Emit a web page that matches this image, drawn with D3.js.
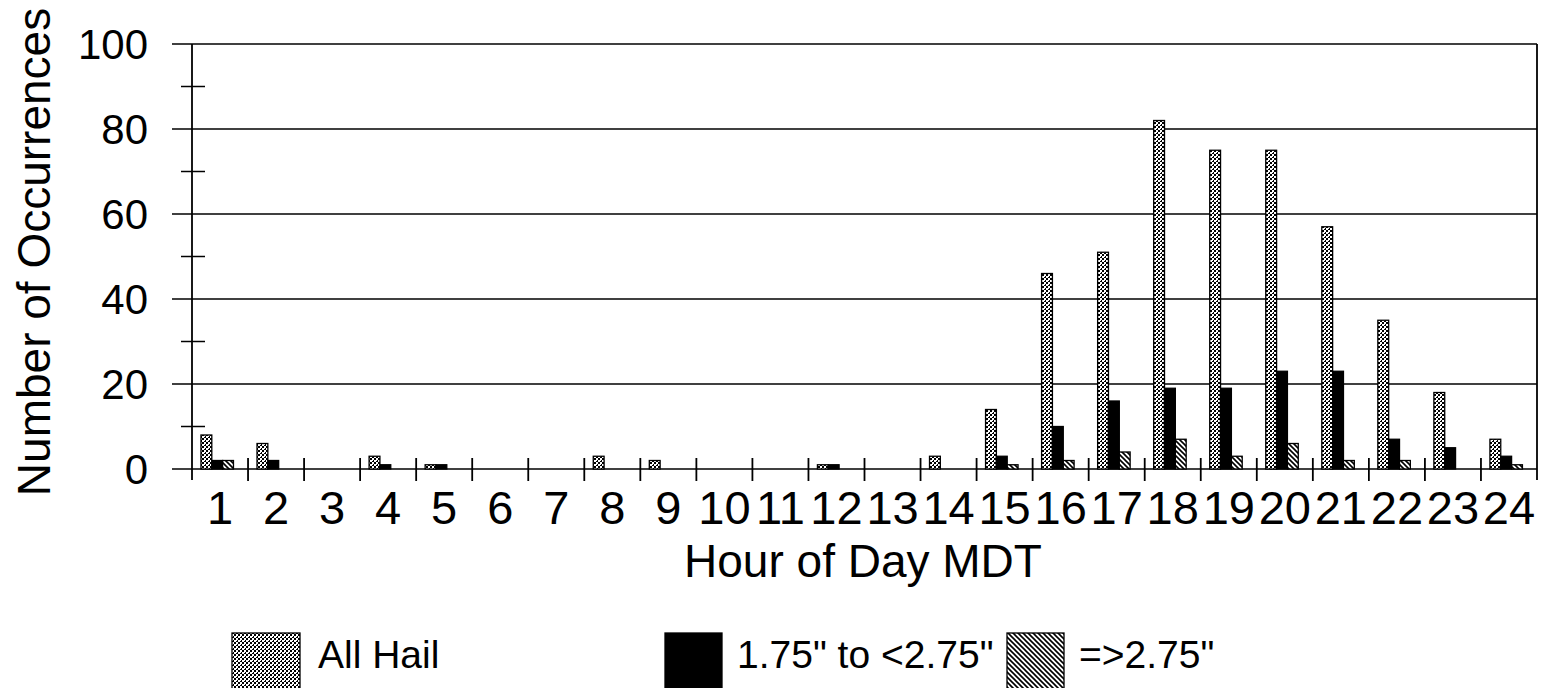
<!DOCTYPE html>
<html>
<head>
<meta charset="utf-8">
<script src="https://cdn.jsdelivr.net/npm/d3@7"></script>
<style>
  html, body { margin: 0; padding: 0; background: #fff; }
  svg { display: block; }
  text { font-family: "Liberation Sans", Arial, Helvetica, sans-serif; fill: #000; }
</style>
</head>
<body>
<svg id="chart" width="1543" height="688"></svg>
<script>
// ---- data ----
const hours = ["1","2","3","4","5","6","7","8","9","10","11","12","13","14","15","16","17","18","19","20","21","22","23","24"];
const allHail = [8,6,0,3,1,0,0,3,2,0,0,1,0,3,14,46,51,82,75,75,57,35,18,7];
const midHail = [2,2,0,1,1,0,0,0,0,0,0,1,0,0,3,10,16,19,19,23,23,7,5,3];
const bigHail = [2,0,0,0,0,0,0,0,0,0,0,0,0,0,1,2,4,7,3,6,2,2,0,1];
const seriesNames = ["All Hail", "1.75\" to <2.75\"", "=>2.75\""];
const yTicks = [0,20,40,60,80,100];
const yMinor = [10,30,50,70,90];

(function () {
const svg = d3.select("#chart");
const pLeft = 192, pRight = 1537, pTop = 44, pBottom = 469;

// patterns
const defs = svg.append("defs");
const dots = defs.append("pattern").attr("id","pDots").attr("patternUnits","userSpaceOnUse")
  .attr("width",4).attr("height",4);
dots.append("rect").attr("width",4).attr("height",4).attr("fill","#000");
dots.append("rect").attr("x",0).attr("y",2).attr("width",2).attr("height",2).attr("fill","#fff");
dots.append("rect").attr("x",2).attr("y",0).attr("width",2).attr("height",2).attr("fill","#fff");
dots.append("rect").attr("x",0).attr("y",0).attr("width",1).attr("height",1).attr("fill","#fff");
const hatch = defs.append("pattern").attr("id","pHatch").attr("patternUnits","userSpaceOnUse")
  .attr("width",5).attr("height",5);
hatch.append("rect").attr("width",5).attr("height",5).attr("fill","#fff");
hatch.append("path").attr("d","M-1,-1 L6,6 M-1,4 L1,6 M4,-1 L6,1").attr("stroke","#000").attr("stroke-width",1.6);

const fills = ["url(#pDots)", "#000", "url(#pHatch)"];
const series = [allHail, midHail, bigHail];

const x = d3.scaleBand().domain(hours).range([pLeft, pRight]).paddingInner(0).paddingOuter(0);
const bw = x.bandwidth();
const xs = d3.scaleBand().domain([0,1,2]).range([bw*0.16, bw*0.74]).padding(0);
const y = d3.scaleLinear().domain([0,100]).range([pBottom, pTop]);

// gridlines / major ticks
svg.append("g").selectAll("line").data(yTicks).join("line")
  .attr("x1", pLeft-20).attr("x2", pRight)
  .attr("y1", d=>y(d)).attr("y2", d=>y(d))
  .attr("stroke","#000").attr("stroke-width",1.5);
// minor ticks
svg.append("g").selectAll("line").data(yMinor).join("line")
  .attr("x1", pLeft-11).attr("x2", pLeft+13)
  .attr("y1", d=>y(d)).attr("y2", d=>y(d))
  .attr("stroke","#000").attr("stroke-width",1.5);
// y axis line and right border
svg.append("line").attr("x1",pLeft).attr("x2",pLeft).attr("y1",pTop).attr("y2",pBottom+11)
  .attr("stroke","#000").attr("stroke-width",1.8);
svg.append("line").attr("x1",pRight).attr("x2",pRight).attr("y1",pTop).attr("y2",pBottom+11)
  .attr("stroke","#000").attr("stroke-width",1.8);
// category ticks
svg.append("g").selectAll("line").data(hours.slice(1)).join("line")
  .attr("x1", d=>x(d)).attr("x2", d=>x(d))
  .attr("y1", pBottom-11).attr("y2", pBottom+12)
  .attr("stroke","#000").attr("stroke-width",1.8);

// bars
series.forEach((vals, si) => {
  svg.append("g").selectAll("rect").data(hours.map((h,i)=>({h, v: vals[i]})).filter(d=>d.v>0)).join("rect")
    .attr("x", d => x(d.h) + xs(si))
    .attr("y", d => y(d.v))
    .attr("width", xs.bandwidth())
    .attr("height", d => y(0) - y(d.v))
    .attr("fill", fills[si])
    .attr("stroke","#000").attr("stroke-width",1.3);
});

// y tick labels
svg.append("g").selectAll("text").data(yTicks).join("text")
  .attr("x", 148).attr("y", d=>y(d)+15)
  .attr("text-anchor","end").attr("font-size",42)
  .text(d=>d);

// x tick labels
svg.append("g").selectAll("text").data(hours).join("text")
  .attr("x", d=>x(d)+bw/2).attr("y", 524)
  .attr("text-anchor","middle").attr("font-size",47)
  .text(d=>d);

// axis titles
svg.append("text").attr("x",863).attr("y",577).attr("text-anchor","middle")
  .attr("font-size",46).text("Hour of Day MDT");
svg.append("text").attr("transform","translate(50,252) rotate(-90)")
  .attr("text-anchor","middle").attr("font-size",46).text("Number of Occurrences");

// legend
const legendX = [232, 665, 1007];
const legendTextX = [318, 737, 1079];
const lg = svg.append("g");
seriesNames.forEach((name, i) => {
  lg.append("rect").attr("x", legendX[i]).attr("y", 633).attr("width", i===0?68:57).attr("height", 70)
    .attr("fill", fills[i]).attr("stroke","#000").attr("stroke-width",1.3);
  lg.append("text").attr("x", legendTextX[i]).attr("y", 668).attr("font-size", 39).text(name);
});
})();
</script>
</body>
</html>
